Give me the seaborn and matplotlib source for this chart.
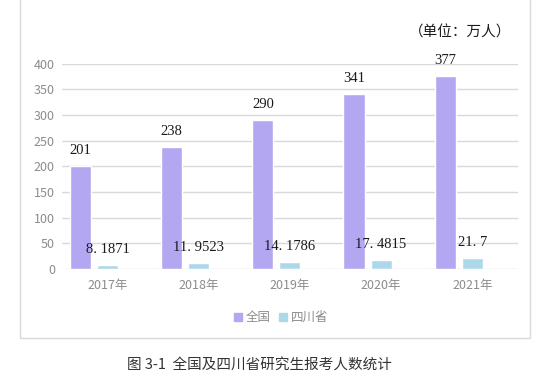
import matplotlib
matplotlib.use("Agg")
import matplotlib.pyplot as plt
from matplotlib.patches import Patch, Rectangle
import pandas as pd
import seaborn as sns

# данные
years = ["2017年", "2018年", "2019年", "2020年", "2021年"]
national = [201, 238, 290, 341, 377]
sichuan = [8.1871, 11.9523, 14.1786, 17.4815, 21.7]
sichuan_labels = ["8. 1871", "11. 9523", "14. 1786", "17. 4815", "21. 7"]
series_names = ["全国", "四川省"]

sns.set_theme(style="white")
plt.rcParams['font.family'] = ['Noto Sans CJK SC', 'DejaVu Sans']

df = pd.DataFrame({
    "year": years * 3,
    "series": ["全国"] * 5 + ["四川省"] * 5 + ["_pad"] * 5,
    "value": national + sichuan + [0] * 5,
})

purple = "#b4a7f1"
blue = "#add8ea"

fig = plt.figure(figsize=(5.48, 3.82), dpi=100)
ax = fig.add_axes([0.113, 0.296, 0.832, 0.537])

sns.barplot(data=df, x="year", y="value", hue="series",
            hue_order=["全国", "四川省", "_pad"],
            palette=[purple, blue, (1, 1, 1, 0)], saturation=1,
            width=0.89, gap=0.22, legend=False, ax=ax)

ax.set_ylim(0, 400)
ax.set_yticks(range(0, 401, 50))
ax.yaxis.grid(True, color="#d9d9d9", linewidth=1)
ax.set_axisbelow(True)
for s in ax.spines.values():
    s.set_visible(False)
ax.set_xlabel("")
ax.set_ylabel("")
ax.tick_params(axis="both", length=0, labelsize=9, labelcolor="#8c8c8c")
ax.tick_params(axis="x", pad=7)
ax.tick_params(axis="y", pad=5)

# подписи значений
for container, labels in zip(ax.containers[:2], [[str(v) for v in national], sichuan_labels]):
    for bar, lab in zip(container, labels):
        ax.annotate(lab, (bar.get_x() + bar.get_width() / 2, bar.get_height()),
                    xytext=(0, 11), textcoords="offset points",
                    ha="center", va="center", fontsize=10.5,
                    family="Liberation Serif", color="#1a1a1a")

handles = [Patch(color=purple), Patch(color=blue)]
fig.legend(handles, series_names, loc="center", bbox_to_anchor=(0.513, 0.168),
           ncol=2, frameon=False, fontsize=9, handlelength=0.7, handleheight=0.7,
           handletextpad=0.3, columnspacing=0.6, labelcolor="#8c8c8c")

fig.text(0.84, 0.914, "（单位：万人）", ha="center", va="center", fontsize=10.5, color="#1a1a1a")
fig.text(0.473, 0.045, "图 3-1  全国及四川省研究生报考人数统计", ha="center", va="center",
         fontsize=10.5, color="#333333")

fig.patches.append(Rectangle((20 / 548, 1 - 338 / 382), 510 / 548, 338 / 382 + 0.01,
                             transform=fig.transFigure, fill=False,
                             edgecolor="#d9d9d9", linewidth=1))

fig.savefig("out.png", dpi=100)
